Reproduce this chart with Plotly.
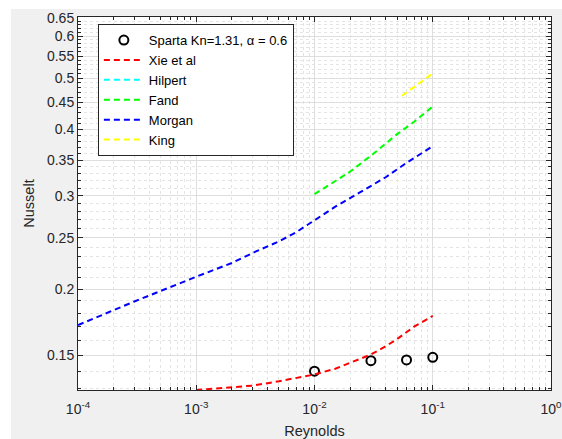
import plotly.graph_objects as go

# Simulation points (Sparta DSMC)
sparta_re = [0.01, 0.03, 0.06, 0.1]
sparta_nu = [0.140, 0.1465, 0.147, 0.1487]

# Correlations
xie_re = [1e-3, 2e-3, 3e-3, 5e-3, 7e-3, 1e-2, 1.5e-2, 2e-2, 3e-2, 4e-2, 5e-2, 7e-2, 1e-1]
xie_nu = [0.129, 0.1305, 0.1315, 0.134, 0.136, 0.138, 0.1415, 0.145, 0.1505, 0.156, 0.161, 0.170, 0.178]

hilpert_re = [None]
hilpert_nu = [None]

fand_re = [1e-2, 2e-2, 3.2e-2, 5e-2, 7e-2, 1e-1]
fand_nu = [0.302, 0.333, 0.361, 0.392, 0.414, 0.442]

morgan_re = [1e-4, 3e-4, 1e-3, 2e-3, 3.2e-3, 5e-3, 7e-3, 1e-2, 1.5e-2, 2.4e-2, 4e-2, 6e-2, 1e-1]
morgan_nu = [0.171, 0.1895, 0.211, 0.224, 0.2355, 0.246, 0.256, 0.270, 0.286, 0.304, 0.325, 0.346, 0.372]

king_re = [0.055, 0.1]
king_nu = [0.463, 0.510]

x_ticks = [1e-4, 1e-3, 1e-2, 1e-1, 1]
x_labels = ["10<sup>-4</sup>", "10<sup>-3</sup>", "10<sup>-2</sup>", "10<sup>-1</sup>", "10<sup>0</sup>"]
y_ticks = [0.15, 0.2, 0.25, 0.3, 0.35, 0.4, 0.45, 0.5, 0.55, 0.6, 0.65]
y_labels = ["0.15", "0.2", "0.25", "0.3", "0.35", "0.4", "0.45", "0.5", "0.55", "0.6", "0.65"]

x_minor = [m * 10 ** e for e in range(-4, 0) for m in range(2, 10)]
y_minor = [round(0.13 + 0.01 * i, 2) for i in range(53) if round(0.13 + 0.01 * i, 2) not in y_ticks]

AX = "#262626"
DASH = "6px,4px"

fig = go.Figure()
fig.add_trace(go.Scatter(x=sparta_re, y=sparta_nu, mode="markers", name="Sparta Kn=1.31, α = 0.6",
                         marker=dict(symbol="circle-open", size=9, color="black", line=dict(width=2))))
fig.add_trace(go.Scatter(x=xie_re, y=xie_nu, mode="lines", name="Xie et al",
                         line=dict(color="#ff0000", width=2, dash=DASH)))
fig.add_trace(go.Scatter(x=hilpert_re, y=hilpert_nu, mode="lines", name="Hilpert",
                         line=dict(color="#00ffff", width=2, dash=DASH)))
fig.add_trace(go.Scatter(x=fand_re, y=fand_nu, mode="lines", name="Fand",
                         line=dict(color="#00ff00", width=2, dash=DASH)))
fig.add_trace(go.Scatter(x=morgan_re, y=morgan_nu, mode="lines", name="Morgan",
                         line=dict(color="#0000ff", width=2, dash=DASH)))
fig.add_trace(go.Scatter(x=king_re, y=king_nu, mode="lines", name="King",
                         line=dict(color="#ffff00", width=2, dash=DASH)))

font = "Liberation Sans, Arial, sans-serif"
fig.update_layout(
    width=562, height=439,
    margin=dict(l=78, r=11, t=17, b=49, autoexpand=False),
    paper_bgcolor="#f0f0f0", plot_bgcolor="white",
    font=dict(family=font, size=14, color=AX),
    showlegend=True,
    legend=dict(x=0.042, y=0.981, xanchor="left", yanchor="top",
                bgcolor="white", bordercolor=AX, borderwidth=1,
                font=dict(size=13, color="black"), tracegroupgap=0,
                itemwidth=40),
    xaxis=dict(type="log", range=[-4, 0], tickvals=x_ticks, ticktext=x_labels,
               automargin=False, ticklabeloverflow="allow", ticklabelstandoff=6,
               showline=True, linecolor=AX, linewidth=1, mirror="allticks",
               ticks="inside", ticklen=5, tickcolor=AX,
               showgrid=True, gridcolor="#dedede", gridwidth=1, zeroline=False,
               minor=dict(tickvals=x_minor, ticks="inside", ticklen=3, tickcolor=AX,
                          showgrid=True, gridcolor="#e4e4e4", griddash="dot"),
               title=dict(text="Reynolds", font=dict(size=14.5), standoff=12)),
    yaxis=dict(type="log", range=[-0.8894, -0.1858], tickvals=y_ticks, ticktext=y_labels,
               automargin=False,
               showline=True, linecolor=AX, linewidth=1, mirror="allticks",
               ticks="inside", ticklen=5, tickcolor=AX,
               showgrid=True, gridcolor="#dedede", gridwidth=1, zeroline=False,
               minor=dict(tickvals=y_minor, ticks="inside", ticklen=3, tickcolor=AX,
                          showgrid=True, gridcolor="#e4e4e4", griddash="dot"),
               title=dict(text="Nusselt", font=dict(size=14.5), standoff=8)),
    shapes=[
        dict(type="rect", xref="paper", yref="paper", x0=-0.2, x1=-0.1416, y0=-0.2, y1=1.1,
             fillcolor="white", line=dict(width=0), layer="below"),
        dict(type="rect", xref="paper", yref="paper", x0=-0.2, x1=1.1, y0=1.0214, y1=1.1,
             fillcolor="white", line=dict(width=0), layer="below"),
    ],
)

fig.write_html("out.html")
